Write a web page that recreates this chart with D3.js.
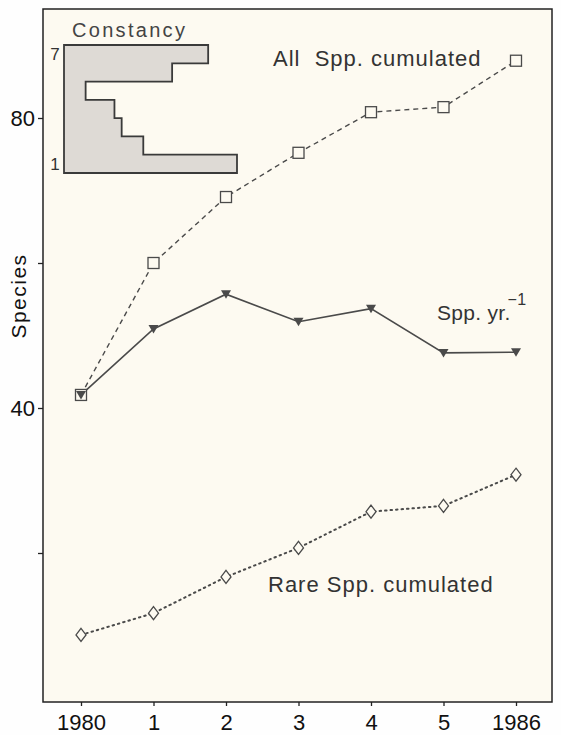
<!DOCTYPE html>
<html>
<head>
<meta charset="UTF-8">
<script src="https://d3js.org/d3.v7.min.js"></script>
<style>
    body { margin: 0; background: #fefefe; }
    svg { font-family: "Liberation Sans", Arial, sans-serif; }
    .axis text { font-size: 22px; fill: #111; }
    .axis line { stroke: #222; stroke-width: 1.3; }
    .lbl { font-size: 22px; fill: #333; letter-spacing: 1px; }
</style>
</head>
<body>
<svg width="561" height="735"></svg>
<script>
    // data
    const years = ["1980", "1", "2", "3", "4", "5", "1986"];
    const allCumulated = [41.8, 60, 69.1, 75.2, 80.8, 81.5, 87.9];
    const sppPerYear = [41.8, 50.9, 55.7, 51.9, 53.7, 47.6, 47.7];
    const rareCumulated = [8.7, 11.7, 16.7, 20.7, 25.7, 26.5, 30.8];
    const yTicks = [20, 40, 60, 80];
    const yTickLabels = ["", "40", "", "80"];

    // inset: species per constancy class
    const constancyClass = [7, 6, 5, 4, 3, 2, 1];
    const constancyCount = [20, 15, 3, 7, 8, 11, 24];

    const svg = d3.select("svg");
    const frame = {left: 43, right: 552, top: 9, bottom: 702};
    const paper = "#fdfaf1";

    svg.append("rect")
        .attr("x", frame.left).attr("y", frame.top)
        .attr("width", frame.right - frame.left)
        .attr("height", frame.bottom - frame.top)
        .attr("fill", paper)
        .attr("stroke", "#222")
        .attr("stroke-width", 1.5);

    const x = d3.scalePoint().domain(years).range([81, 516]);
    const y = d3.scaleLinear().domain([0, 95]).range([698, 9.25]);

    // axes
    svg.append("g")
        .attr("class", "axis")
        .attr("transform", "translate(" + frame.left + ",0)")
        .call(d3.axisLeft(y).tickValues(yTicks).tickSize(5).tickPadding(3)
            .tickFormat((d, i) => yTickLabels[i]))
        .call(g => g.select(".domain").remove())
        .selectAll("text").attr("dy", "0.36em");

    svg.append("g")
        .attr("class", "axis")
        .attr("transform", "translate(0," + frame.bottom + ")")
        .call(d3.axisBottom(x).tickSize(4).tickPadding(8))
        .call(g => g.select(".domain").remove());

    svg.append("text")
        .attr("class", "lbl")
        .attr("transform", "translate(26,296) rotate(-90)")
        .attr("text-anchor", "middle")
        .style("fill", "#111")
        .style("font-size", "21px")
        .style("letter-spacing", "1.5px")
        .text("Species");

    const line = d3.line().x((d, i) => x(years[i])).y(d => y(d));
    const grey = "#4a4a4a";

    svg.append("path").attr("d", line(allCumulated))
        .attr("fill", "none").attr("stroke", grey).attr("stroke-width", 1.4)
        .attr("stroke-dasharray", "5,4");
    svg.append("path").attr("d", line(sppPerYear))
        .attr("fill", "none").attr("stroke", grey).attr("stroke-width", 1.6);
    svg.append("path").attr("d", line(rareCumulated))
        .attr("fill", "none").attr("stroke", grey).attr("stroke-width", 2)
        .attr("stroke-dasharray", "1.5,4").attr("stroke-linecap", "round");

    // markers
    svg.append("g").selectAll("rect")
        .data(allCumulated).join("rect")
        .attr("x", (d, i) => x(years[i]) - 5.5)
        .attr("y", d => y(d) - 5.5)
        .attr("width", 11).attr("height", 11)
        .attr("fill", paper).attr("stroke", grey).attr("stroke-width", 1.3);

    svg.append("g").selectAll("path")
        .data(sppPerYear).join("path")
        .attr("transform", (d, i) => "translate(" + x(years[i]) + "," + y(d) + ")")
        .attr("d", "M-5,-4L5,-4L0,4.5Z")
        .attr("fill", grey);

    svg.append("g").selectAll("path")
        .data(rareCumulated).join("path")
        .attr("transform", (d, i) => "translate(" + x(years[i]) + "," + y(d) + ")")
        .attr("d", "M0,-6.5L5,0L0,6.5L-5,0Z")
        .attr("fill", paper).attr("stroke", grey).attr("stroke-width", 1.3);

    // series labels
    svg.append("text").attr("class", "lbl").attr("x", 273).attr("y", 66)
        .attr("xml:space", "preserve").text("All  Spp. cumulated");
    svg.append("text").attr("class", "lbl").attr("x", 268).attr("y", 592)
        .text("Rare Spp. cumulated");
    const sy = svg.append("text").attr("class", "lbl").attr("x", 437).attr("y", 320)
        .style("font-size", "21px").style("letter-spacing", "0.3px");
    sy.append("tspan").text("Spp. yr.");
    sy.append("tspan").attr("dx", -3).attr("dy", -15).style("font-size", "16px").text("\u22121");

    // constancy inset
    const cx = d3.scaleLinear().domain([0, 24]).range([64, 237]);
    const cy = d3.scaleBand().domain(constancyClass).range([45, 173]);

    const p = d3.path();
    p.moveTo(cx(0), cy.range()[0]);
    constancyCount.forEach((c, i) => {
        const top = cy(constancyClass[i]);
        p.lineTo(cx(c), top);
        p.lineTo(cx(c), top + cy.bandwidth());
    });
    p.lineTo(cx(0), cy.range()[1]);
    p.closePath();
    svg.append("path").attr("d", p.toString())
        .attr("fill", "#dedad5").attr("stroke", "#3a3a3a").attr("stroke-width", 1.8);

    svg.append("text").attr("class", "lbl").attr("x", 72).attr("y", 37)
        .style("font-size", "20px").style("letter-spacing", "2.3px").style("fill", "#444")
        .text("Constancy");
    svg.append("g").selectAll("text")
        .data([7, 1]).join("text")
        .attr("x", 55).attr("y", d => cy(d) + cy.bandwidth() / 2 + 6)
        .attr("text-anchor", "middle")
        .style("font-size", "17px").style("fill", "#333")
        .text(d => d);
</script>
</body>
</html>
